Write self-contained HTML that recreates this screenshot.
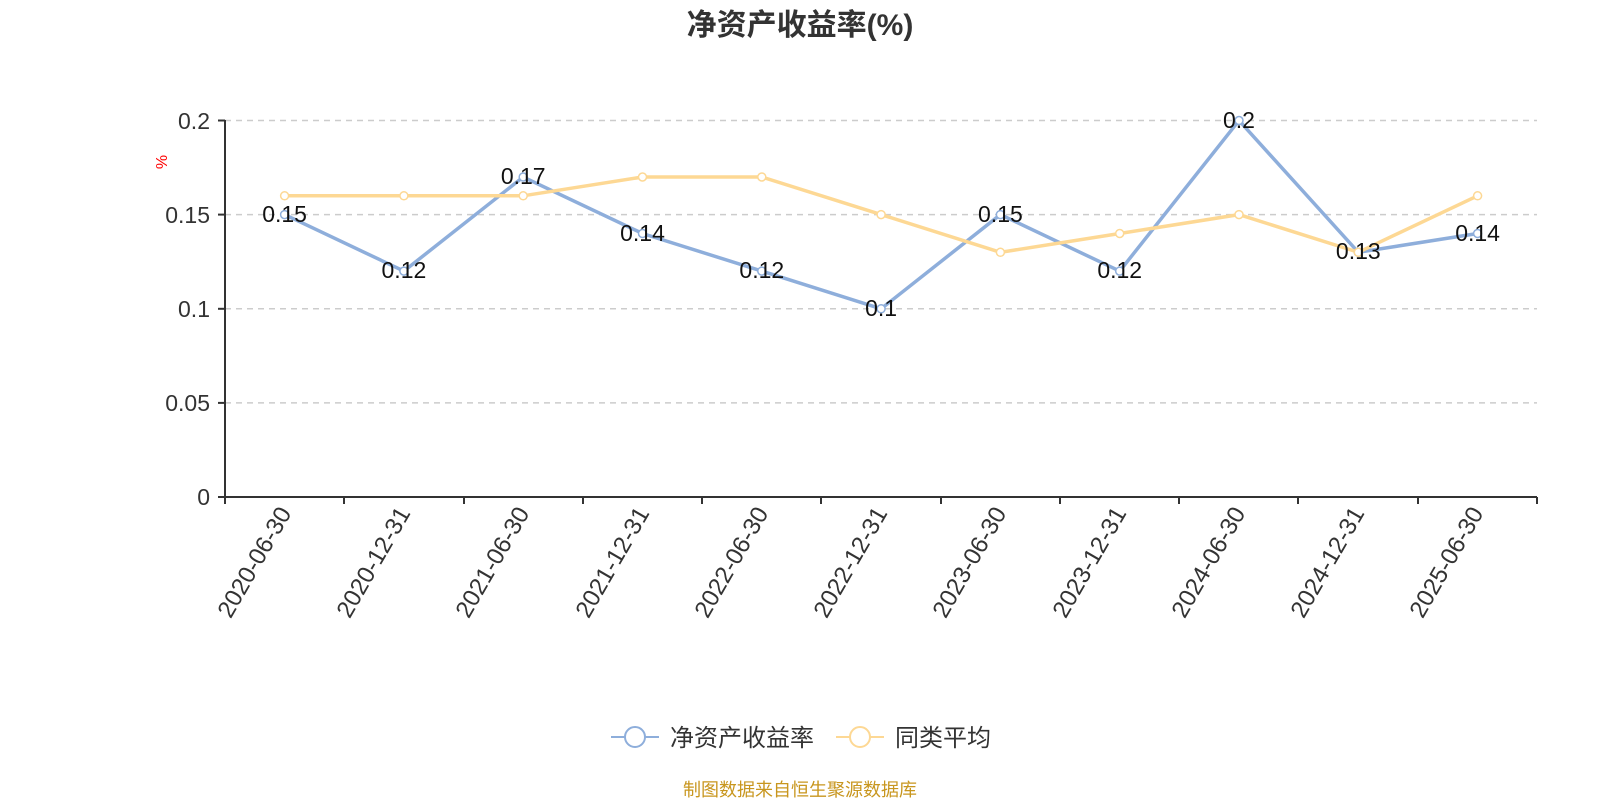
<!DOCTYPE html>
<html><head><meta charset="utf-8"><style>body{margin:0;background:#fff}svg{display:block}</style></head><body>
<svg width="1600" height="800" xmlns="http://www.w3.org/2000/svg" font-family="'Liberation Sans','Noto Sans CJK SC',sans-serif">
<text x="800" y="35" text-anchor="middle" font-size="30" font-weight="bold" fill="#333">净资产收益率(%)</text>
<text x="0" y="0" transform="translate(167,162) rotate(-90)" text-anchor="middle" font-size="16" fill="#f00">%</text>
<g stroke="#ccc" stroke-dasharray="6,5" stroke-width="1.5">
<line x1="225" x2="1537" y1="120.5" y2="120.5"/><line x1="225" x2="1537" y1="214.6" y2="214.6"/><line x1="225" x2="1537" y1="308.8" y2="308.8"/><line x1="225" x2="1537" y1="402.9" y2="402.9"/>
</g>
<g stroke="#333" stroke-width="2"><line x1="225" y1="120" x2="225" y2="498"/><line x1="224" y1="497" x2="1537" y2="497"/>
<line x1="218" x2="225" y1="120.5" y2="120.5"/><line x1="218" x2="225" y1="214.6" y2="214.6"/><line x1="218" x2="225" y1="308.8" y2="308.8"/><line x1="218" x2="225" y1="402.9" y2="402.9"/><line x1="218" x2="225" y1="497" y2="497"/>
<line x1="225" x2="225" y1="497" y2="504"/><line x1="344" x2="344" y1="497" y2="504"/><line x1="464" x2="464" y1="497" y2="504"/><line x1="583" x2="583" y1="497" y2="504"/><line x1="702" x2="702" y1="497" y2="504"/><line x1="821" x2="821" y1="497" y2="504"/><line x1="941" x2="941" y1="497" y2="504"/><line x1="1060" x2="1060" y1="497" y2="504"/><line x1="1179" x2="1179" y1="497" y2="504"/><line x1="1298" x2="1298" y1="497" y2="504"/><line x1="1418" x2="1418" y1="497" y2="504"/><line x1="1537" x2="1537" y1="497" y2="504"/>
</g>
<g font-size="23" fill="#333" text-anchor="end">
<text x="210" y="129">0.2</text><text x="210" y="223">0.15</text><text x="210" y="317">0.1</text><text x="210" y="411">0.05</text><text x="210" y="505">0</text>
</g>
<g font-size="24" fill="#333" text-anchor="end">
<text transform="translate(292,513) rotate(-60)">2020-06-30</text>
<text transform="translate(411,513) rotate(-60)">2020-12-31</text>
<text transform="translate(530,513) rotate(-60)">2021-06-30</text>
<text transform="translate(650,513) rotate(-60)">2021-12-31</text>
<text transform="translate(769,513) rotate(-60)">2022-06-30</text>
<text transform="translate(888,513) rotate(-60)">2022-12-31</text>
<text transform="translate(1007,513) rotate(-60)">2023-06-30</text>
<text transform="translate(1127,513) rotate(-60)">2023-12-31</text>
<text transform="translate(1246,513) rotate(-60)">2024-06-30</text>
<text transform="translate(1365,513) rotate(-60)">2024-12-31</text>
<text transform="translate(1484,513) rotate(-60)">2025-06-30</text>
</g>
<polyline fill="none" stroke="#8eaedb" stroke-width="3.5" points="284.6,214.6 403.9,271.1 523.2,177 642.5,233.5 761.8,271.1 881.1,308.8 1000.4,214.6 1119.7,271.1 1239,120.5 1358.3,252.3 1477.6,233.5"/>
<polyline fill="none" stroke="#fdd894" stroke-width="3.5" points="284.6,195.8 403.9,195.8 523.2,195.8 642.5,177 761.8,177 881.1,214.6 1000.4,252.3 1119.7,233.5 1239,214.6 1358.3,252.3 1477.6,195.8"/>
<g fill="#fff" stroke="#8eaedb" stroke-width="1.5">
<circle cx="284.6" cy="214.6" r="4"/><circle cx="403.9" cy="271.1" r="4"/><circle cx="523.2" cy="177" r="4"/><circle cx="642.5" cy="233.5" r="4"/><circle cx="761.8" cy="271.1" r="4"/><circle cx="881.1" cy="308.8" r="4"/><circle cx="1000.4" cy="214.6" r="4"/><circle cx="1119.7" cy="271.1" r="4"/><circle cx="1239" cy="120.5" r="4"/><circle cx="1358.3" cy="252.3" r="4"/><circle cx="1477.6" cy="233.5" r="4"/>
</g>
<g fill="#fff" stroke="#fdd894" stroke-width="1.5">
<circle cx="284.6" cy="195.8" r="4"/><circle cx="403.9" cy="195.8" r="4"/><circle cx="523.2" cy="195.8" r="4"/><circle cx="642.5" cy="177" r="4"/><circle cx="761.8" cy="177" r="4"/><circle cx="881.1" cy="214.6" r="4"/><circle cx="1000.4" cy="252.3" r="4"/><circle cx="1119.7" cy="233.5" r="4"/><circle cx="1239" cy="214.6" r="4"/><circle cx="1358.3" cy="252.3" r="4"/><circle cx="1477.6" cy="195.8" r="4"/>
</g>
<g font-size="23" fill="#111" text-anchor="middle">
<text x="284.6" y="222">0.15</text><text x="403.9" y="278">0.12</text><text x="523.2" y="184">0.17</text><text x="642.5" y="241">0.14</text><text x="761.8" y="278">0.12</text><text x="881.1" y="316">0.1</text><text x="1000.4" y="222">0.15</text><text x="1119.7" y="278">0.12</text><text x="1239" y="128">0.2</text><text x="1358.3" y="259">0.13</text><text x="1477.6" y="241">0.14</text>
</g>
<g>
<line x1="611" x2="659" y1="737" y2="737" stroke="#8eaedb" stroke-width="2"/><circle cx="635" cy="737" r="10" fill="#fff" stroke="#8eaedb" stroke-width="2"/>
<text x="670" y="746" font-size="24" fill="#333">净资产收益率</text>
<line x1="836" x2="884" y1="737" y2="737" stroke="#fdd894" stroke-width="2"/><circle cx="860" cy="737" r="10" fill="#fff" stroke="#fdd894" stroke-width="2"/>
<text x="895" y="746" font-size="24" fill="#333">同类平均</text>
</g>
<text x="800" y="796" text-anchor="middle" font-size="18" fill="#c8961e">制图数据来自恒生聚源数据库</text>
</svg>
</body></html>
